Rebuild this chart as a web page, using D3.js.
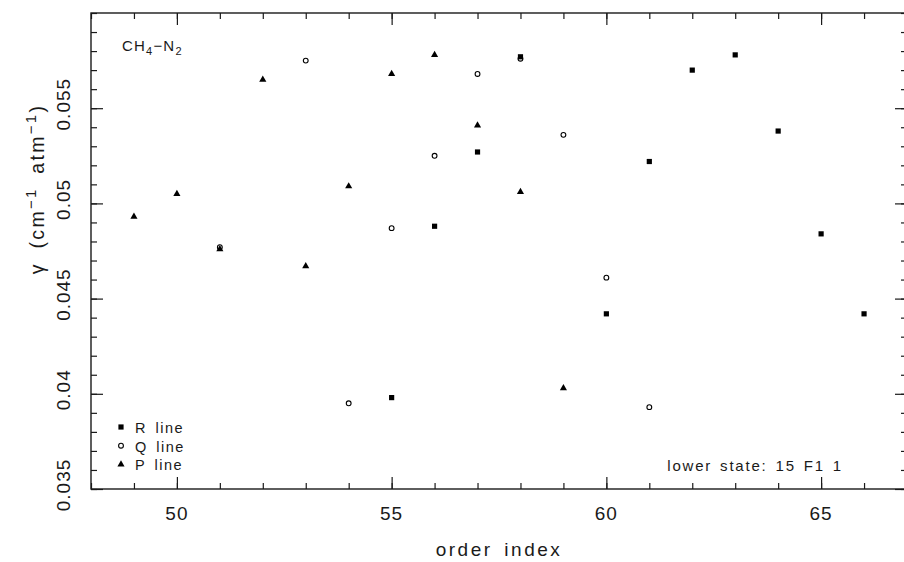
<!DOCTYPE html>
<html>
<head>
<meta charset="utf-8">
<script src="https://cdn.jsdelivr.net/npm/d3@7"></script>
<style>
  body { margin: 0; background: #fff; }
  svg { display: block; font-family: "Liberation Sans", Arial, sans-serif; }
</style>
</head>
<body>
<div id="graph"></div>
<script>
// order index for each branch, and the broadening coefficient
const rOrder = [55, 56, 57, 58, 60, 61, 62, 63, 64, 65, 66];
const rGamma = [0.0398, 0.0488, 0.0527, 0.0577, 0.0442, 0.0522, 0.0570, 0.0578, 0.0538, 0.0484, 0.0442];
const qOrder = [51, 53, 54, 55, 56, 57, 58, 59, 60, 61];
const qGamma = [0.0477, 0.0575, 0.0395, 0.0487, 0.0525, 0.0568, 0.0576, 0.0536, 0.0461, 0.0393];
const pOrder = [49, 50, 51, 52, 53, 54, 55, 56, 57, 58, 59];
const pGamma = [0.0493, 0.0505, 0.0476, 0.0565, 0.0467, 0.0509, 0.0568, 0.0578, 0.0541, 0.0506, 0.0403];
const xTicks = [50, 55, 60, 65];
const yTicks = [0.035, 0.04, 0.045, 0.05, 0.055];
const legendNames = ['R line', 'Q line', 'P line'];

const W = 904, H = 562;
const padL = 91, padR = 907, padT = 13, padB = 489;
const ink = '#1a1a1a';

const x = d3.scaleLinear().domain([48, 67]).range([padL, padR]);
const y = d3.scaleLinear().domain([0.035, 0.06]).range([padB, padT]);

const svg = d3.select('#graph').append('svg')
  .attr('width', W).attr('height', H);

const minorX = d3.range(48, 68);
const minorY = d3.range(35, 61).map(d => d / 1000);

function ticks(g, axis, vals, size) {
  g.call(axis.tickValues(vals).tickSize(size).tickFormat(''));
  g.select('.domain').remove();
  g.selectAll('line').attr('stroke', ink).attr('stroke-width', 1.2);
}

svg.append('g').attr('transform', `translate(0,${padB})`).call(ticks, d3.axisBottom(x), minorX, -6);
svg.append('g').attr('transform', `translate(0,${padB})`).call(ticks, d3.axisBottom(x), xTicks, -12);
svg.append('g').attr('transform', `translate(0,${padT})`).call(ticks, d3.axisTop(x), minorX, -6);
svg.append('g').attr('transform', `translate(0,${padT})`).call(ticks, d3.axisTop(x), xTicks, -12);
svg.append('g').attr('transform', `translate(${padL},0)`).call(ticks, d3.axisLeft(y), minorY, -6);
svg.append('g').attr('transform', `translate(${padL},0)`).call(ticks, d3.axisLeft(y), yTicks, -12);
svg.append('g').attr('transform', `translate(${padR},0)`).call(ticks, d3.axisRight(y), minorY, -6);
svg.append('g').attr('transform', `translate(${padR},0)`).call(ticks, d3.axisRight(y), yTicks, -12);

svg.append('rect')
  .attr('x', padL).attr('y', padT)
  .attr('width', padR - padL).attr('height', padB - padT)
  .attr('fill', 'none').attr('stroke', ink).attr('stroke-width', 1.4);

// tick labels
svg.append('g').selectAll('text')
  .data(xTicks).enter().append('text')
  .attr('x', d => x(d)).attr('y', 520)
  .attr('text-anchor', 'middle')
  .attr('font-size', 19).attr('letter-spacing', 1)
  .attr('fill', ink)
  .text(d => d);

svg.append('g').selectAll('text')
  .data(yTicks).enter().append('text')
  .attr('transform', d => `translate(70,${y(d) - 4}) rotate(-90)`)
  .attr('text-anchor', 'middle')
  .attr('font-size', 19).attr('letter-spacing', 1)
  .attr('fill', ink)
  .text(d => d3.format('')(d));

// axis titles
svg.append('text')
  .attr('x', (padL + padR) / 2).attr('y', 556)
  .attr('text-anchor', 'middle')
  .attr('font-size', 19).attr('letter-spacing', 2.5).attr('word-spacing', 4)
  .attr('fill', ink)
  .text('order index');

const yl = svg.append('text')
  .attr('transform', `translate(44,189) rotate(-90)`)
  .attr('text-anchor', 'middle')
  .attr('font-size', 19.5).attr('letter-spacing', 2.3).attr('word-spacing', 6)
  .attr('fill', ink);
yl.append('tspan').text('γ (cm');
yl.append('tspan').attr('dy', -8).attr('font-size', 15).text('−1');
yl.append('tspan').attr('dy', 8).text(' atm');
yl.append('tspan').attr('dy', -8).attr('font-size', 15).text('−1');
yl.append('tspan').attr('dy', 8).text(')');

// molecule pair label
const mol = svg.append('text')
  .attr('x', 122).attr('y', 51)
  .attr('font-size', 15).attr('letter-spacing', 1.2)
  .attr('fill', ink);
mol.append('tspan').text('CH');
mol.append('tspan').attr('dy', 4).attr('font-size', 11).text('4');
mol.append('tspan').attr('dy', -4).text('−N');
mol.append('tspan').attr('dy', 4).attr('font-size', 11).text('2');

svg.append('text')
  .attr('x', 843).attr('y', 471)
  .attr('text-anchor', 'end')
  .attr('font-size', 15).attr('letter-spacing', 1.8).attr('word-spacing', 2)
  .attr('fill', ink)
  .text('lower state: 15 F1 1');

// markers
const square = d3.symbol().type(d3.symbolSquare).size(27);
const tri = d3.symbol().type(d3.symbolTriangle).size(22);

svg.append('g').selectAll('path')
  .data(rOrder).enter().append('path')
  .attr('d', square)
  .attr('transform', (d, i) => `translate(${x(d)},${y(rGamma[i])})`)
  .attr('fill', '#000');

svg.append('g').selectAll('circle')
  .data(qOrder).enter().append('circle')
  .attr('cx', d => x(d)).attr('cy', (d, i) => y(qGamma[i]))
  .attr('r', 2.4)
  .attr('fill', 'none').attr('stroke', '#000').attr('stroke-width', 1.1);

svg.append('g').selectAll('path')
  .data(pOrder).enter().append('path')
  .attr('d', tri)
  .attr('transform', (d, i) => `translate(${x(d)},${y(pGamma[i])})`)
  .attr('fill', '#000');

// legend
const leg = svg.append('g').selectAll('g')
  .data(legendNames).enter().append('g')
  .attr('transform', (d, i) => `translate(121,${427 + i * 18.7})`);
leg.each(function(d, i) {
  const g = d3.select(this);
  if (i === 0) g.append('path').attr('d', square).attr('fill', '#000');
  if (i === 1) g.append('circle').attr('r', 2.4).attr('fill', 'none').attr('stroke', '#000').attr('stroke-width', 1.1);
  if (i === 2) g.append('path').attr('d', tri).attr('fill', '#000');
});
leg.append('text')
  .attr('x', 14).attr('y', 6)
  .attr('font-size', 14.5).attr('letter-spacing', 1.5).attr('word-spacing', 3)
  .attr('fill', ink)
  .text(d => d);
</script>
</body>
</html>
